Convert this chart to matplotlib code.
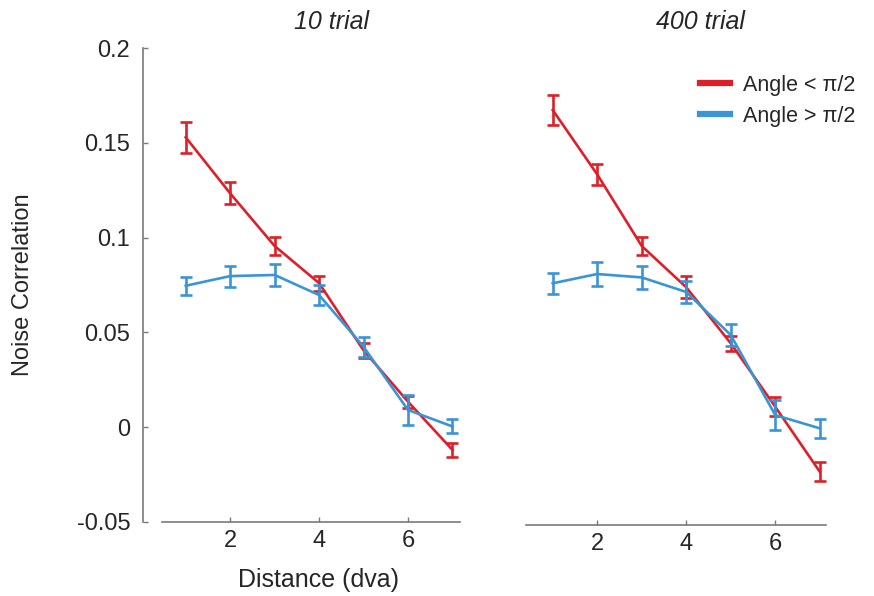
import numpy as np
import matplotlib.pyplot as plt
from matplotlib.lines import Line2D

plt.rcParams['font.family'] = ['Liberation Sans', 'DejaVu Sans']
plt.rcParams['axes.unicode_minus'] = False

# distance bins (dva)
distance = [1, 2, 3, 4, 5, 6, 7]

# 10 trial
nc10_small = [0.1530, 0.1234, 0.0956, 0.0760, 0.0405, 0.0134, -0.0121]
se10_small = [0.0081, 0.0058, 0.0046, 0.0040, 0.0039, 0.0032, 0.0035]
nc10_large = [0.0746, 0.0797, 0.0803, 0.0697, 0.0424, 0.0090, 0.0003]
se10_large = [0.0048, 0.0055, 0.0057, 0.0053, 0.0053, 0.0079, 0.0037]

# 400 trial
nc400_small = [0.1674, 0.1334, 0.0956, 0.0738, 0.0442, 0.0107, -0.0236]
se400_small = [0.0081, 0.0055, 0.0049, 0.0057, 0.0040, 0.0050, 0.0051]
nc400_large = [0.0759, 0.0808, 0.0790, 0.0713, 0.0486, 0.0063, -0.0007]
se400_large = [0.0055, 0.0062, 0.0061, 0.0057, 0.0057, 0.0081, 0.0050]

yticks = [-0.05, 0, 0.05, 0.1, 0.15, 0.2]
ytick_labels = ['-0.05', '0', '0.05', '0.1', '0.15', '0.2']
xticks = [2, 4, 6]

RED = '#DE1F28'
BLUE = '#3A94D6'
TXT = '#262626'
SPINE = '#7a7a7a'

fig = plt.figure(figsize=(8.74, 5.96), dpi=100, facecolor='white')
W, H = 874, 596


def px_axes(x0, x1, ytop, ybot):
    return fig.add_axes([x0 / W, 1 - ybot / H, (x1 - x0) / W, (ybot - ytop) / H])


ax1 = px_axes(161.7, 460, 48.3, 521.7)
ax2 = px_axes(526, 826, 48.3, 525)


def draw(ax, small, se_small, large, se_large):
    ax.errorbar(distance, small, yerr=se_small, color=RED, lw=1.9,
                elinewidth=1.9, capsize=4.2, capthick=1.9, zorder=2)
    ax.errorbar(distance, large, yerr=se_large, color=BLUE, lw=1.9,
                elinewidth=1.9, capsize=4.2, capthick=1.9, zorder=3)
    for s in ['top', 'right']:
        ax.spines[s].set_visible(False)
    ax.spines['bottom'].set_color(SPINE)
    ax.spines['bottom'].set_linewidth(1.2)
    ax.set_xticks(xticks)
    ax.tick_params(axis='x', direction='in', length=3.5, width=1,
                   color=SPINE, labelsize=17, labelcolor=TXT, pad=6)
    ax.tick_params(axis='y', direction='in', length=3.5, width=1,
                   color=SPINE, labelsize=17, labelcolor=TXT, pad=9)


draw(ax1, nc10_small, se10_small, nc10_large, se10_large)
draw(ax2, nc400_small, se400_small, nc400_large, se400_large)

ax1.set_xlim(0.46, 7.17)
ax1.set_ylim(-0.05, 0.2)
ax1.set_yticks(yticks)
ax1.set_yticklabels(ytick_labels)
ax1.spines['left'].set_position(('outward', 13.7))
ax1.spines['left'].set_color(SPINE)
ax1.spines['left'].set_linewidth(1.2)

ax2.set_xlim(0.40, 7.14)
ax2.set_ylim(0.2 - (525 - 48.3) / 1893.6, 0.2)
ax2.spines['left'].set_visible(False)
ax2.set_yticks([])

# panel titles and axis labels
fig.text(332 / W, 1 - 22 / H, '10 trial', style='italic', fontsize=18,
         color=TXT, ha='center', va='center')
fig.text(700 / W, 1 - 22 / H, '400 trial', style='italic', fontsize=18,
         color=TXT, ha='center', va='center')
fig.text(23 / W, 1 - 285 / H, 'Noise Correlation', rotation=90, fontsize=17,
         color=TXT, ha='center', va='center')
fig.text(318 / W, 1 - 580 / H, 'Distance (dva)', fontsize=18,
         color=TXT, ha='center', va='center')

handles = [Line2D([0], [0], color=RED, lw=4.5),
           Line2D([0], [0], color=BLUE, lw=4.5)]
leg = fig.legend(handles, ['Angle < \u03c0/2', 'Angle > \u03c0/2'],
                 loc='upper left', bbox_to_anchor=(700 / W, 1 - 75 / H),
                 frameon=False, fontsize=15.5, handlelength=1.4,
                 handletextpad=0.6, labelspacing=0.45, borderaxespad=0,
                 borderpad=0)
for t in leg.get_texts():
    t.set_color(TXT)

plt.savefig('out.png', dpi=100, facecolor='white')
